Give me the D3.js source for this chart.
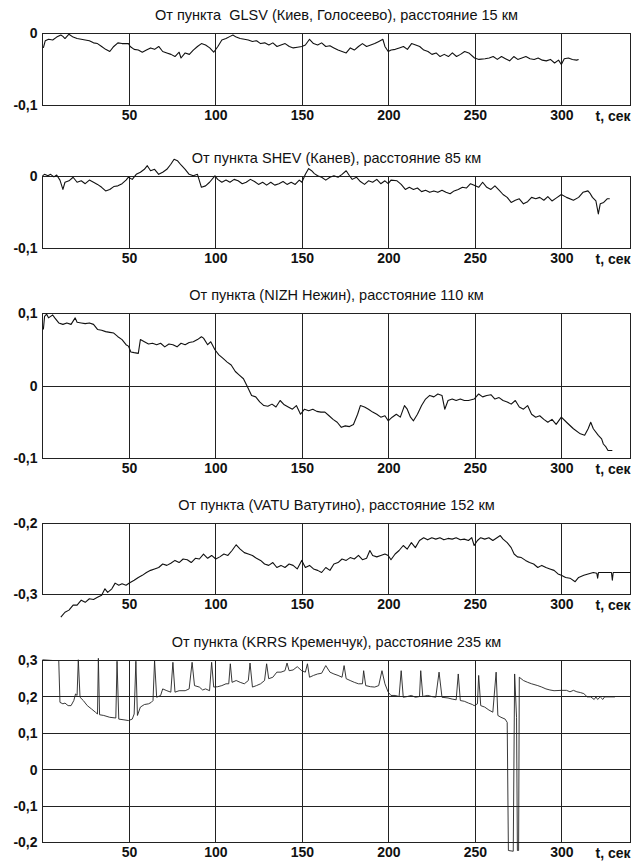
<!DOCTYPE html>
<html><head><meta charset="utf-8">
<script src="https://cdn.jsdelivr.net/npm/d3@7"></script>
<style>body{margin:0;background:#fff}</style>
</head><body><svg id="c" width="639" height="861"></svg>
<script>
const titles = [
  "От пункта  GLSV (Киев, Голосеево), расстояние 15 км",
  "От пункта SHEV (Канев), расстояние 85 км",
  "От пункта (NIZH Нежин), расстояние 110 км",
  "От пункта (VATU Ватутино), расстояние 152 км",
  "От пункта (KRRS Кременчук), расстояние 235 км"
];
const xTicks = [50,100,150,200,250,300];
const xUnit = "t, сек";
const xDomain = [0,340];
const yDomains = [[-0.1,0],[-0.1,0],[-0.1,0.1],[-0.3,-0.2],[-0.2,0.3]];
const yTicks = [[0,-0.1],[0,-0.1],[0.1,0,-0.1],[-0.2,-0.3],[0.3,0.2,0.1,0,-0.1,-0.2]];

const glsv = [[0.5,-0.020],[1.6,-0.010],[3.5,-0.008],[5.9,-0.009],[8.2,-0.005],[10.6,-0.002],[11.8,-0.004],[13,-0.007],[15.3,-0.001],[17.7,-0.005],[20,-0.007],[22.4,-0.008],[24.7,-0.009],[27.1,-0.010],[29.5,-0.013],[31.8,-0.014],[34.2,-0.018],[36.5,-0.022],[38.9,-0.025],[41.2,-0.018],[43.6,-0.013],[46,-0.014],[49.7,-0.014],[50.7,-0.018],[53,-0.022],[55.4,-0.023],[57.7,-0.026],[60.1,-0.023],[62.5,-0.020],[64.8,-0.022],[67.2,-0.018],[69.5,-0.025],[71.9,-0.027],[74.3,-0.029],[76.6,-0.032],[79,-0.026],[80.1,-0.034],[82.5,-0.027],[84.9,-0.029],[87.2,-0.023],[89.6,-0.018],[91.9,-0.014],[94.3,-0.016],[96.7,-0.020],[99,-0.026],[101.4,-0.018],[103.7,-0.009],[106.1,-0.007],[108.5,-0.004],[110.1,-0.002],[112,-0.005],[114.3,-0.007],[116.7,-0.008],[119,-0.009],[121.4,-0.011],[123.8,-0.010],[126.1,-0.014],[128.5,-0.013],[130.9,-0.016],[133.2,-0.013],[135.6,-0.018],[137.9,-0.016],[140.3,-0.014],[142.7,-0.018],[145,-0.020],[147.4,-0.019],[150,-0.018],[152,-0.016],[154.4,-0.008],[156.7,-0.014],[159.1,-0.016],[161.4,-0.013],[163.8,-0.018],[166.2,-0.017],[168.5,-0.020],[170.9,-0.023],[173.2,-0.025],[175.6,-0.027],[178,-0.020],[180.3,-0.023],[182.7,-0.018],[185,-0.014],[187.4,-0.018],[189.8,-0.016],[192.1,-0.014],[194.5,-0.011],[196.8,-0.008],[198,-0.018],[199.9,-0.025],[201.6,-0.023],[204,-0.022],[206.3,-0.020],[208.7,-0.018],[211,-0.022],[213.4,-0.014],[215.8,-0.016],[218.1,-0.018],[220.5,-0.023],[222.9,-0.025],[225.2,-0.029],[227.6,-0.027],[229.9,-0.032],[232.3,-0.029],[234.7,-0.032],[237,-0.027],[239.4,-0.032],[241.7,-0.029],[244.1,-0.025],[246.5,-0.027],[249.8,-0.034],[252.4,-0.036],[255.9,-0.035],[258.3,-0.034],[260.6,-0.032],[263,-0.036],[265.4,-0.032],[267.7,-0.035],[270.1,-0.038],[272.5,-0.032],[274.8,-0.036],[277.2,-0.034],[279.5,-0.032],[281.9,-0.035],[284.3,-0.036],[286.6,-0.034],[289,-0.037],[291.3,-0.038],[293.7,-0.036],[296.1,-0.041],[298.4,-0.037],[300,-0.043],[301.7,-0.035],[304.1,-0.034],[306.4,-0.036],[308.8,-0.037],[310,-0.036]];

const shev = [[0,0.001],[1.2,0.003],[3.1,0.001],[4.7,0.003],[6.6,-0.0005],[8.2,0.002],[10.1,-0.005],[11.8,-0.018],[13,-0.008],[15.3,-0.006],[17.7,-0.001],[20,-0.008],[22.4,-0.006],[24.7,-0.010],[27.1,-0.005],[29.5,-0.008],[31.8,-0.011],[34.2,-0.015],[36.5,-0.020],[38.9,-0.018],[41.2,-0.014],[43.6,-0.013],[46,-0.010],[48.3,-0.005],[49.7,-0.001],[51.9,-0.004],[54.2,0.003],[56.6,0.006],[58.9,0.010],[60.6,0.015],[62.5,0.008],[64.8,0.010],[67.2,0.003],[69.5,0.006],[71.9,0.010],[74.2,0.017],[76.1,0.024],[78,0.022],[80.1,0.016],[82.5,0.010],[84.8,0.003],[87.2,0.001],[89.6,0.003],[91.9,-0.015],[94.3,-0.013],[96.6,-0.008],[99.7,0.001],[101.3,-0.004],[103.7,-0.008],[106.1,-0.005],[108.4,-0.008],[110.8,-0.004],[113.1,-0.006],[115.5,-0.010],[117.8,-0.008],[120.2,-0.004],[122.6,-0.007],[124.9,-0.011],[127.3,-0.008],[129.6,-0.012],[132,-0.008],[134.3,-0.012],[136.7,-0.010],[139.1,-0.007],[141.4,-0.011],[143.8,-0.008],[146.1,-0.011],[148.5,-0.005],[150,-0.008],[152,0.003],[153.9,0.011],[155.6,0.008],[157.2,0.004],[159.1,0.001],[161.4,-0.001],[163.8,-0.005],[166.2,-0.001],[168.5,0.001],[170.9,-0.001],[173.2,0.003],[175.6,0.008],[177.5,0.001],[179.1,-0.004],[181.5,-0.001],[183.8,-0.007],[186.2,-0.011],[188.5,-0.006],[190.9,-0.008],[193.3,-0.004],[195.6,-0.010],[198,-0.006],[199.9,-0.010],[201.5,-0.005],[205,-0.006],[207.4,-0.011],[209.8,-0.018],[212.1,-0.015],[214.5,-0.018],[216.8,-0.016],[219.2,-0.021],[221.5,-0.019],[223.9,-0.022],[226.3,-0.020],[228.6,-0.022],[231,-0.019],[233.3,-0.022],[235.7,-0.024],[238,-0.020],[240.4,-0.018],[242.8,-0.015],[245.1,-0.016],[247.5,-0.010],[249.6,-0.012],[252.2,-0.015],[254.5,-0.008],[256.9,-0.015],[259.3,-0.018],[261.6,-0.013],[264,-0.019],[266.3,-0.025],[268.7,-0.029],[271,-0.036],[273.4,-0.033],[275.7,-0.031],[278.1,-0.038],[280.5,-0.035],[282.8,-0.029],[285.2,-0.031],[287.5,-0.029],[289.9,-0.033],[292.2,-0.028],[294.6,-0.034],[297,-0.030],[300,-0.025],[303,-0.029],[307,-0.033],[310,-0.029],[312.5,-0.022],[315.4,-0.020],[316.5,-0.023],[318,-0.029],[320,-0.034],[321.4,-0.052],[322.5,-0.038],[324.5,-0.036],[326.5,-0.031],[328,-0.031]];

const nizh = [[0.5,0.078],[1.2,0.096],[2.4,0.099],[3.5,0.094],[4.7,0.096],[5.9,0.098],[7.1,0.094],[9.4,0.087],[11.8,0.085],[14.1,0.087],[16.5,0.085],[18.9,0.094],[20,0.088],[22.4,0.087],[24.7,0.086],[27.1,0.087],[29.5,0.085],[31.8,0.078],[34.2,0.077],[36.5,0.075],[38.9,0.074],[41.2,0.073],[43.6,0.068],[46,0.064],[48.3,0.057],[49.7,0.055],[51.1,0.047],[53,0.046],[55.4,0.045],[56.6,0.064],[58.9,0.061],[61.3,0.058],[63.6,0.059],[66,0.057],[68.3,0.059],[70.7,0.054],[73.1,0.058],[75.4,0.057],[77.8,0.054],[80.1,0.059],[82.5,0.057],[84.8,0.060],[87.2,0.061],[89.6,0.064],[91.9,0.068],[93.1,0.066],[95.5,0.057],[97.3,0.061],[99.7,0.050],[102,0.043],[104.4,0.038],[106.8,0.033],[109.1,0.029],[111.5,0.020],[113.8,0.015],[116.2,0.010],[118.5,-0.001],[120.9,-0.013],[123.3,-0.015],[125.6,-0.022],[128,-0.027],[130.3,-0.028],[132.7,-0.025],[135,-0.029],[137.4,-0.020],[139.8,-0.026],[142.1,-0.029],[144.5,-0.032],[146.8,-0.027],[149.2,-0.039],[151.5,-0.032],[153.9,-0.034],[156.3,-0.032],[158.6,-0.035],[161,-0.036],[163.3,-0.036],[165.7,-0.041],[168,-0.046],[170.4,-0.050],[172.8,-0.057],[175.1,-0.055],[177.5,-0.056],[179.8,-0.053],[182.2,-0.039],[183.8,-0.027],[186.2,-0.029],[188.5,-0.032],[190.9,-0.036],[193.3,-0.039],[195.6,-0.043],[198,-0.041],[199.9,-0.048],[202.2,-0.043],[204.6,-0.039],[206.9,-0.043],[209.3,-0.027],[210.9,-0.032],[212.8,-0.043],[214.5,-0.048],[216.8,-0.039],[219.2,-0.027],[221.5,-0.018],[223.9,-0.013],[226.3,-0.015],[228.6,-0.011],[231,-0.013],[232.6,-0.032],[234.5,-0.020],[236.9,-0.018],[239.2,-0.020],[241.6,-0.018],[243.9,-0.020],[246.3,-0.020],[249.6,-0.018],[252.2,-0.011],[254.5,-0.015],[256.9,-0.013],[259.3,-0.012],[261.6,-0.018],[264,-0.016],[266.3,-0.020],[268.7,-0.022],[271,-0.025],[273.4,-0.020],[275.7,-0.029],[278.1,-0.032],[280.5,-0.027],[282.8,-0.039],[285.2,-0.043],[287.5,-0.041],[289.9,-0.046],[292.2,-0.050],[294.6,-0.046],[297,-0.053],[300,-0.043],[303,-0.050],[307,-0.059],[311,-0.066],[313.5,-0.068],[315.5,-0.059],[317,-0.050],[318.5,-0.059],[321.4,-0.068],[323.3,-0.073],[324.3,-0.080],[325.8,-0.084],[327,-0.089],[329.5,-0.089]];

const vatu = [[10.6,-0.332],[13,-0.325],[15.3,-0.322],[17.7,-0.315],[20,-0.315],[22.4,-0.308],[24.7,-0.311],[27.1,-0.306],[29.5,-0.307],[31.8,-0.304],[34.2,-0.301],[36.1,-0.292],[37.7,-0.297],[40.1,-0.292],[42,-0.284],[44.1,-0.287],[46,-0.285],[48.3,-0.287],[50.7,-0.283],[53,-0.280],[55.4,-0.276],[57.7,-0.273],[60.1,-0.269],[62.5,-0.266],[64.8,-0.264],[67.2,-0.262],[69.5,-0.257],[71.9,-0.259],[74.2,-0.256],[76.6,-0.252],[79,-0.255],[81.3,-0.250],[83.7,-0.251],[86,-0.255],[88.4,-0.249],[90.7,-0.250],[93.1,-0.243],[95.5,-0.249],[97.8,-0.245],[100.2,-0.250],[102.5,-0.247],[104.9,-0.243],[107.2,-0.245],[109.6,-0.238],[112,-0.230],[114.3,-0.236],[116.7,-0.241],[119,-0.243],[121.4,-0.245],[123.7,-0.249],[126.1,-0.252],[128.4,-0.257],[130.8,-0.259],[133.2,-0.255],[135.5,-0.262],[137.9,-0.259],[140.2,-0.262],[142.6,-0.257],[144.9,-0.259],[147.3,-0.264],[149.9,-0.252],[152,-0.262],[154.4,-0.259],[156.7,-0.264],[159.1,-0.266],[161.4,-0.269],[163.8,-0.262],[166.2,-0.266],[168.5,-0.257],[170.9,-0.255],[173.2,-0.250],[175.6,-0.252],[177.9,-0.248],[180.3,-0.250],[182.7,-0.245],[185,-0.251],[187.4,-0.249],[189.3,-0.238],[190.9,-0.245],[193.3,-0.247],[195.6,-0.245],[198,-0.243],[199.9,-0.245],[201.5,-0.251],[203.9,-0.243],[206.2,-0.238],[208.6,-0.231],[210.9,-0.236],[213.3,-0.227],[215.6,-0.234],[218,-0.224],[220.4,-0.220],[222.7,-0.223],[225.1,-0.220],[227.4,-0.222],[229.8,-0.220],[232.1,-0.223],[234.5,-0.221],[236.9,-0.222],[239.2,-0.220],[241.6,-0.223],[243.9,-0.222],[246.3,-0.224],[248.2,-0.220],[249.6,-0.231],[251.5,-0.224],[253.4,-0.220],[255.7,-0.222],[258.1,-0.220],[260.4,-0.224],[262.8,-0.220],[264.7,-0.217],[266.3,-0.222],[268.7,-0.227],[271,-0.234],[272.7,-0.243],[274.6,-0.247],[276.9,-0.248],[279.3,-0.252],[281.6,-0.255],[284,-0.257],[286.4,-0.262],[288.7,-0.259],[291.1,-0.262],[293.4,-0.264],[295.8,-0.266],[298.1,-0.271],[300,-0.273],[302.5,-0.276],[305,-0.277],[308,-0.282],[310,-0.276],[313,-0.273],[315.5,-0.271],[318.5,-0.269],[320.5,-0.270],[321,-0.277],[321.5,-0.269],[329,-0.269],[329.5,-0.280],[330,-0.269],[340,-0.269]];

const krrs = [[0,0.302],[5.9,0.300],[9.4,0.300],[10.1,0.185],[11.8,0.181],[13,0.183],[14.8,0.176],[16.5,0.176],[18.1,0.190],[19.1,0.208],[20,0.204],[20.7,0.302],[21.7,0.199],[23.6,0.190],[25.9,0.176],[28.3,0.167],[30.6,0.158],[31.8,0.153],[32.3,0.306],[33,0.151],[35.4,0.149],[38.9,0.144],[42.4,0.142],[43.1,0.298],[44.1,0.139],[47.1,0.137],[49.7,0.135],[51.9,0.139],[53,0.153],[54,0.298],[54.9,0.149],[56.6,0.172],[58.9,0.179],[61.3,0.181],[62.9,0.185],[63.9,0.190],[64.8,0.300],[66,0.199],[68.3,0.204],[69.5,0.222],[71.9,0.217],[74.2,0.213],[75.4,0.295],[76.6,0.213],[79,0.217],[82.5,0.217],[84.8,0.222],[86.5,0.295],[87.9,0.231],[90.7,0.227],[92.6,0.219],[94.3,0.222],[96.6,0.217],[97.8,0.295],[99,0.227],[101.3,0.228],[103.7,0.231],[106.1,0.236],[107.7,0.236],[108.6,0.291],[109.6,0.240],[112,0.245],[114.3,0.240],[116.7,0.236],[119,0.245],[120,0.293],[121.4,0.227],[123.7,0.231],[126.1,0.236],[128.4,0.245],[129.6,0.291],[130.8,0.250],[133.2,0.254],[135.5,0.268],[137.9,0.268],[140.2,0.272],[141.4,0.293],[142.6,0.272],[144.9,0.274],[147.3,0.283],[149.9,0.272],[152,0.268],[153.2,0.291],[154.4,0.254],[156.7,0.259],[159.1,0.263],[161.4,0.265],[163.8,0.286],[166.2,0.268],[168.5,0.263],[170.9,0.259],[173.2,0.254],[174.4,0.286],[175.6,0.250],[177.9,0.245],[180.3,0.240],[182.7,0.236],[185,0.236],[185.7,0.272],[186.9,0.231],[189.7,0.228],[192.1,0.227],[194.4,0.231],[196.3,0.272],[198,0.236],[199.9,0.213],[201.5,0.204],[203.9,0.204],[206.2,0.201],[207.4,0.272],[208.6,0.199],[210.9,0.201],[213.3,0.204],[215.6,0.199],[218,0.201],[218.7,0.272],[219.9,0.201],[222.7,0.204],[225.1,0.201],[227.4,0.199],[229.3,0.268],[231,0.199],[234.5,0.197],[236.9,0.194],[239.2,0.192],[240.4,0.263],[241.6,0.190],[243.9,0.188],[246.3,0.183],[248.6,0.179],[249.6,0.176],[251.5,0.181],[252.2,0.259],[253.4,0.176],[255.7,0.172],[258.1,0.164],[260.4,0.158],[262.3,0.268],[263.3,0.149],[265.1,0.144],[267.5,0.139],[268.7,0.130],[269.4,-0.222],[272.2,-0.224],[273,0.263],[274.1,0.144],[274.6,-0.222],[275.3,-0.222],[275.7,0.254],[278.1,0.245],[280.5,0.240],[282.8,0.236],[286.4,0.231],[288.7,0.227],[291.1,0.222],[293.4,0.219],[295.8,0.217],[300,0.218],[303,0.218],[305,0.214],[307,0.218],[309,0.214],[311,0.212],[313,0.209],[315,0.200],[317,0.200],[319,0.193],[320,0.200],[321,0.193],[322.5,0.200],[324,0.193],[325,0.200],[331,0.200]];

const seriesList = [glsv, shev, nizh, vatu, krrs];

// ---- drawing ----
const svg = d3.select('#c');
svg.append('rect').attr('width',639).attr('height',861).attr('fill','#fff');
const FONT = '"Liberation Sans", Arial, sans-serif';
const panels = [
  {top:33.5, bottom:105.5},
  {top:176.5, bottom:248.5},
  {top:313.5, bottom:458.5},
  {top:523.5, bottom:594.5},
  {top:660.5, bottom:842.5}
];
const x = d3.scaleLinear().domain(xDomain).range([42.5, 630.5]);
const fmt = v => v === 0 ? "0" : v.toFixed(1).replace('.', ',');
const xr = v => Math.round(x(v)) + 0.5;

panels.forEach((P, i) => {
  const y = d3.scaleLinear().domain(yDomains[i]).range([P.bottom, P.top]);
  const g = svg.append('g');
  g.selectAll('line.vg').data(xTicks).join('line')
    .attr('x1', xr).attr('x2', xr).attr('y1', P.top).attr('y2', P.bottom)
    .attr('stroke', '#222').attr('stroke-width', 1);
  g.selectAll('line.hg').data(yTicks[i]).join('line')
    .attr('x1', x(xDomain[0])).attr('x2', x(xDomain[1]))
    .attr('y1', d => Math.round(y(d) - 0.5) + 0.5).attr('y2', d => Math.round(y(d) - 0.5) + 0.5)
    .attr('stroke', '#222').attr('stroke-width', 1);
  g.append('rect').attr('x', x(xDomain[0])).attr('y', P.top)
    .attr('width', x(xDomain[1]) - x(xDomain[0])).attr('height', P.bottom - P.top)
    .attr('fill', 'none').attr('stroke', '#222').attr('stroke-width', 1);
  g.append('text').attr('x', (x(xDomain[0]) + x(xDomain[1])) / 2).attr('y', P.top - 14)
    .attr('text-anchor', 'middle').attr('font-family', FONT).attr('font-size', 14.5)
    .style('white-space', 'pre').attr('fill', '#111').text(titles[i]);
  const ya = d3.axisLeft(y).tickValues(yTicks[i]).tickSize(0).tickPadding(5).tickFormat(fmt);
  g.append('g').attr('transform', `translate(${x(xDomain[0])},0)`).call(ya)
    .call(s => s.select('.domain').remove())
    .attr('font-family', FONT).attr('font-size', 14).attr('font-weight', 'bold')
    .selectAll('text').attr('fill', '#111');
  const xa = d3.axisBottom(x).tickValues(xTicks).tickSize(0).tickPadding(5).tickFormat(d3.format('d'));
  g.append('g').attr('transform', `translate(0,${P.bottom})`).call(xa)
    .call(s => s.select('.domain').remove())
    .attr('font-family', FONT).attr('font-size', 14).attr('font-weight', 'bold')
    .selectAll('text').attr('fill', '#111');
  g.append('text').attr('x', x(xDomain[1])).attr('y', P.bottom + 15)
    .attr('text-anchor', 'end').attr('font-family', FONT).attr('font-size', 14)
    .attr('font-weight', 'bold').attr('fill', '#111').text(xUnit);
  const line = d3.line().x(d => x(d[0])).y(d => y(d[1]));
  g.append('path').datum(seriesList[i]).attr('d', line)
    .attr('fill', 'none').attr('stroke', i === 4 ? '#222' : '#111')
    .attr('stroke-width', i === 4 ? 0.9 : 1.1).attr('stroke-linejoin', 'round');
});
</script></body></html>
